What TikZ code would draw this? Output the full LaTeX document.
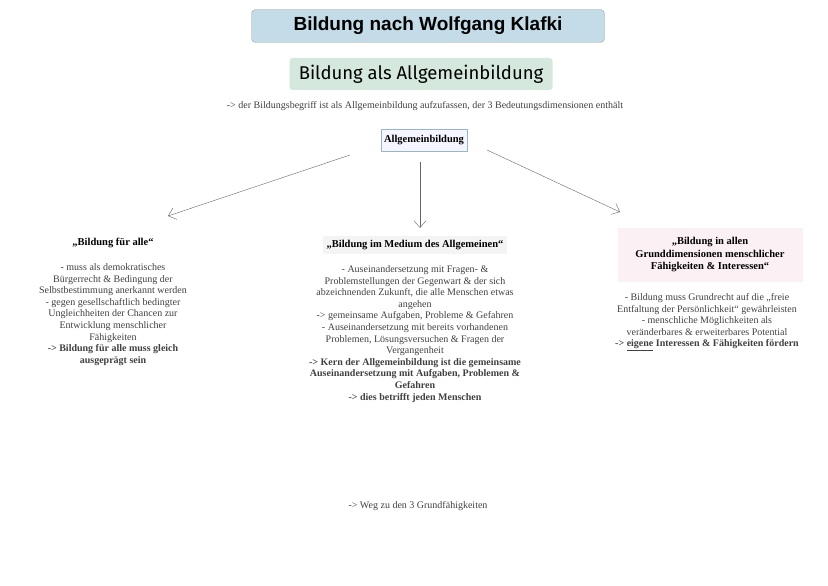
\documentclass[tikz,border=0pt]{standalone}
\usepackage{fontspec}
\setmainfont{Liberation Serif}
\newfontfamily\titlefont{Liberation Sans}
\newfontfamily\handfont{Fira Sans}
\usetikzlibrary{arrows.meta}
\definecolor{titleblue}{HTML}{C4DBE8}
\definecolor{subgreen}{HTML}{D5E8DE}
\definecolor{headgray}{HTML}{F4F4F4}
\definecolor{headpink}{HTML}{FBF0F3}
\begin{document}
\begin{tikzpicture}[x=1pt,y=-1pt,
    txt/.style={align=center, font=\fontsize{10}{11.6}\selectfont, text=black!75},
    head/.style={align=center, font=\bfseries\fontsize{10.5}{12.5}\selectfont, inner sep=4pt},
    branch/.style={draw=black!60, -{Straight Barb[length=7pt,width=12pt]}}]
  \useasboundingbox (0,0) rectangle (828,586);
  % title and subtitle
  \node [fill=titleblue, draw=black!35, rounded corners=4pt, minimum width=353pt, minimum height=33pt,
         font=\titlefont\bfseries\fontsize{19}{22}\selectfont] (title) at (428,26) {Bildung nach Wolfgang Klafki};
  \node [fill=subgreen, rounded corners=3pt, minimum width=263pt, minimum height=32pt,
         font=\handfont\fontsize{18.5}{21}\selectfont] (sub) at (421,74) {Bildung als Allgemeinbildung};
  \node [txt] (intro) at (425,106) {-> der Bildungsbegriff ist als Allgemeinbildung aufzufassen, der 3 Bedeutungsdimensionen enthält};
  \node [head, fill=blue!4, draw=cyan!50!black!50, minimum height=22pt, inner sep=3pt] (root) at (424,140) {Allgemeinbildung};
  % heads
  \node [head] (left) at (113,243) {„Bildung für alle“};
  \node [head, fill=headgray] (mid) at (415,245) {„Bildung im Medium des Allgemeinen“};
  \node [head, fill=headpink, minimum width=185pt, minimum height=54pt] (right) at (710,255)
        {„Bildung in allen\\Grunddimensionen menschlicher\\Fähigkeiten \& Interessen“};
  % arrows
  \coordinate (la) at (350,155);
  \coordinate (ra) at (487,150);
  \coordinate (ma) at (420,162);
  \draw [branch] (la) -- (168,216);
  \draw [branch] (ma) -- (420,228);
  \draw [branch] (ra) -- (620,212);
  % bodies
  \node [txt, anchor=north] (ltxt) at (113,260) {- muss als demokratisches\\Bürgerrecht \& Bedingung der\\Selbstbestimmung anerkannt werden\\- gegen gesellschaftlich bedingter\\Ungleichheiten der Chancen zur\\Entwicklung menschlicher\\Fähigkeiten\\\textbf{-> Bildung für alle muss gleich}\\\textbf{ausgeprägt sein}};
  \node [txt, anchor=north] (mtxt) at (415,262) {- Auseinandersetzung mit Fragen- \&\\Problemstellungen der Gegenwart \& der sich\\abzeichnenden Zukunft, die alle Menschen etwas\\angehen\\-> gemeinsame Aufgaben, Probleme \& Gefahren\\- Auseinandersetzung mit bereits vorhandenen\\Problemen, Lösungsversuchen \& Fragen der\\Vergangenheit\\\textbf{-> Kern der Allgemeinbildung ist die gemeinsame}\\\textbf{Auseinandersetzung mit Aufgaben, Problemen \&}\\\textbf{Gefahren}\\\textbf{-> dies betrifft jeden Menschen}};
  \node [txt, anchor=north] (rtxt) at (707,290) {- Bildung muss Grundrecht auf die „freie\\Entfaltung der Persönlichkeit“ gewährleisten\\- menschliche Möglichkeiten als\\veränderbares \& erweiterbares Potential\\\textbf{-> \underline{eigene} Interessen \& Fähigkeiten fördern}};
  \node [txt] (foot) at (418,506) {-> Weg zu den 3 Grundfähigkeiten};
\end{tikzpicture}
\end{document}
